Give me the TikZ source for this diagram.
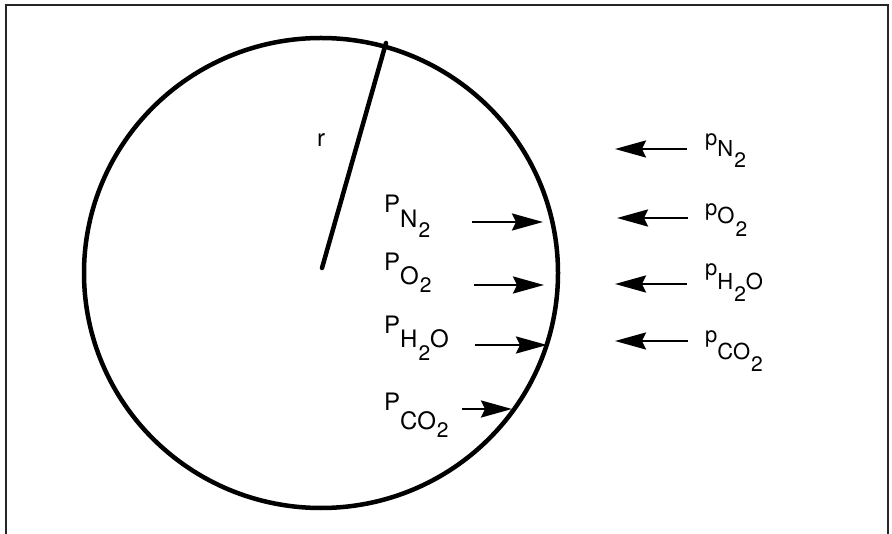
\documentclass[tikz,border=0pt]{standalone}
\usepackage{fontspec}
\setmainfont{TeX Gyre Heros}
\usepackage{tikz}
\usetikzlibrary{arrows.meta,positioning,calc}

% gas label: letter, drop of the species, species
\newcommand{\gas}[3]{#1\raisebox{#2}{#3}}
\newcommand{\idx}[2]{\raisebox{#1}{\fontsize{21}{24}\selectfont\kern1pt #2}}

\begin{document}
\begin{tikzpicture}[x=1pt, y=-1pt, font=\fontsize{24}{28}\selectfont,
  flux/.style={-{Stealth[length=31pt,width=17pt,inset=4pt]}, line width=2.4pt},
  gaslbl/.style={anchor=base west, inner sep=0pt},
  outlbl/.style={gaslbl, font=\fontsize{22}{26}\selectfont}]
  \useasboundingbox (0,0) rectangle (892,534);
  \draw[line width=2pt, black!85] (6,540) -- (6,5) -- (888,5) -- (888,540);
  \draw[line width=4.5pt] (321,273) ellipse (237 and 235);
  % radius
  \coordinate (ctr) at (322,268);
  \coordinate (rim) at (386,43);
  \draw[line width=4.5pt, line cap=round] (ctr) -- (rim);
  \node[inner sep=0pt] (rlbl) at (321,140) {r};
  % partial pressures inside
  \node[gaslbl] (inN) at (384,213) {\gas{P}{-15pt}{N\idx{-10pt}{2}}};
  \node[gaslbl] (inO) at (384,271) {\gas{P}{-14pt}{O\idx{-8pt}{2}}};
  \node[gaslbl] (inH) at (384,334) {\gas{P}{-14pt}{H\idx{-13pt}{2}O}};
  \node[gaslbl] (inC) at (384,411) {\gas{P}{-19pt}{CO\idx{-8pt}{2}}};
  % partial pressures outside
  \node[outlbl] (outN) at (705,146) {\gas{p}{-11pt}{N\idx{-11pt}{2}}};
  \node[outlbl] (outO) at (705,216) {\gas{p}{-8pt}{O\idx{-13pt}{2}}};
  \node[outlbl] (outH) at (705,276) {\gas{p}{-14pt}{H\idx{-12pt}{2}O}};
  \node[outlbl] (outC) at (705,343) {\gas{p}{-17pt}{CO\idx{-12pt}{2}}};
  % arrows in
  \coordinate (aN) at (472,222); \coordinate (bN) at (543,222);
  \coordinate (aO) at (474,285); \coordinate (bO) at (544,285);
  \coordinate (aH) at (475,345); \coordinate (bH) at (547,345);
  \coordinate (aC) at (462,409); \coordinate (bC) at (512,409);
  \draw[flux] (aN) -- (bN);
  \draw[flux] (aO) -- (bO);
  \draw[flux] (aH) -- (bH);
  \draw[flux] (aC) -- (bC);
  % arrows out
  \coordinate (cN) at (687,149); \coordinate (dN) at (615,149);
  \coordinate (cO) at (688,218); \coordinate (dO) at (617,218);
  \coordinate (cH) at (687,284); \coordinate (dH) at (615,284);
  \coordinate (cC) at (688,341); \coordinate (dC) at (615,341);
  \draw[flux] (cN) -- (dN);
  \draw[flux] (cO) -- (dO);
  \draw[flux] (cH) -- (dH);
  \draw[flux] (cC) -- (dC);
\end{tikzpicture}
\end{document}
